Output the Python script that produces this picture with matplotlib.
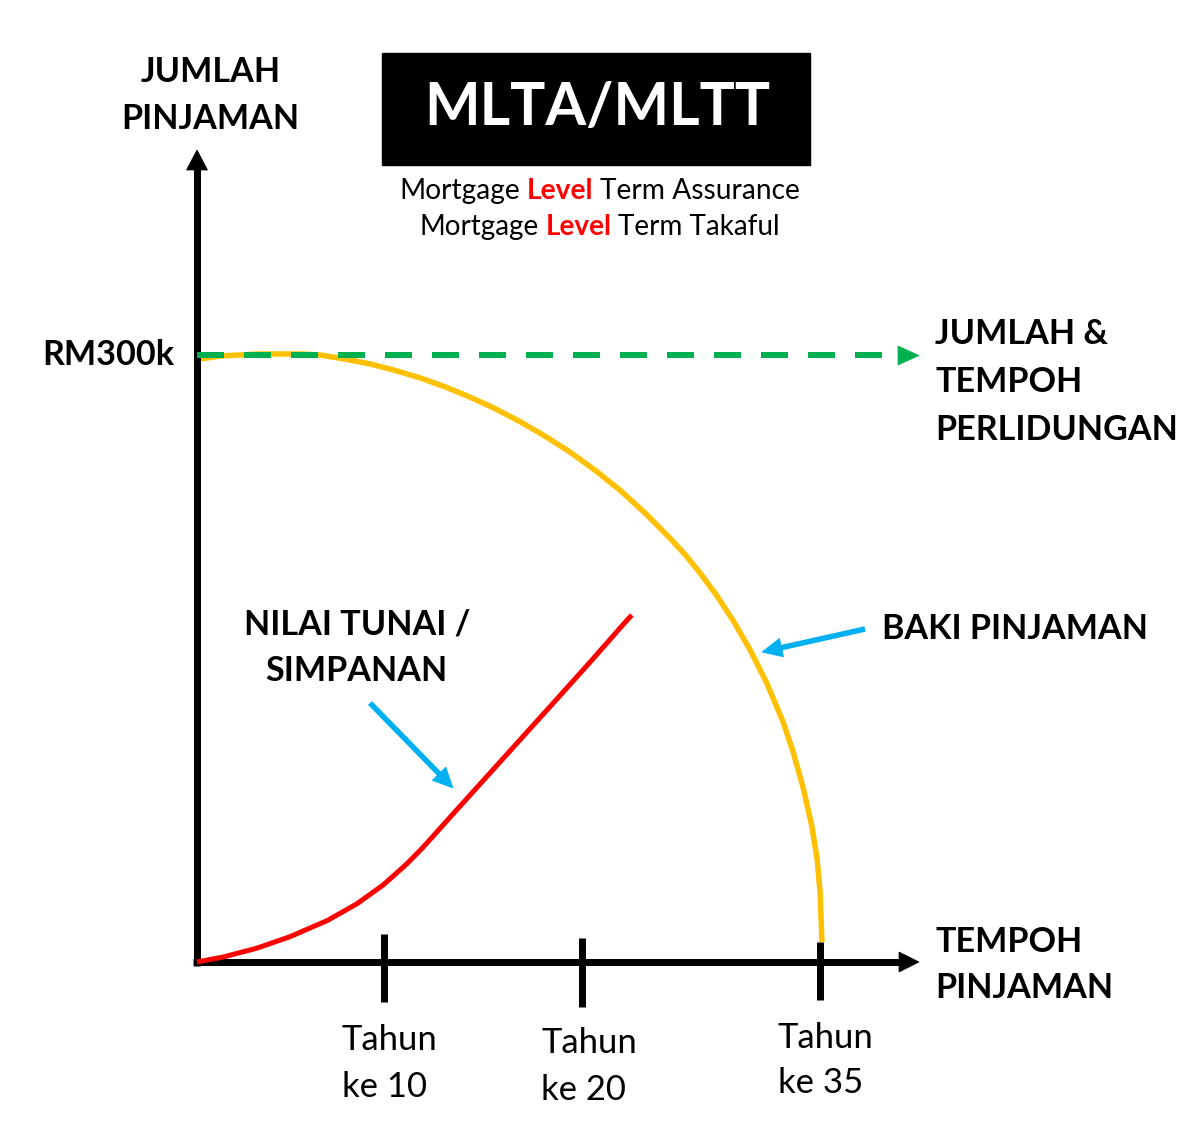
import matplotlib
matplotlib.use("Agg")
import matplotlib.pyplot as plt
from matplotlib.patches import Polygon, Rectangle
import numpy as np

# ---------------- data (schematic units: x = time units, y = RM thousand) ----------------
sum_assured_k = 300          # RM300k level cover
cover_end_x = 37.5           # dashed cover line length (time units)

loan_x = [0.16, 1.23, 2.30, 3.37, 4.44, 5.51, 6.58, 7.91, 9.25, 10.59, 11.93, 13.26,
          14.60, 15.94, 17.27, 18.61, 19.95, 21.28, 22.62, 23.96, 25.29, 26.10, 26.90,
          27.81, 28.66, 29.57, 30.48, 31.34, 31.87, 32.41, 32.89, 33.16, 33.32, 33.42]
loan_balance_k = [298.0, 299.5, 300.0, 300.5, 300.5, 300.5, 300.0, 298.0, 295.6, 292.4,
                  288.7, 284.3, 279.2, 273.5, 267.1, 259.9, 252.0, 243.1, 233.2, 221.9,
                  209.5, 201.4, 192.3, 180.9, 168.9, 154.4, 137.6, 118.7, 104.1, 86.3,
                  66.7, 50.9, 34.6, 9.9]

cash_x = [0.0, 1.41, 3.19, 4.97, 6.97, 8.54, 9.96, 11.21, 12.10, 13.88, 15.67, 17.45,
          19.24, 21.02, 22.80, 23.25]
cash_value_k = [0.0, 2.5, 6.8, 12.5, 20.5, 28.7, 38.1, 48.4, 56.8, 75.1, 93.4, 111.6,
                129.9, 148.2, 166.9, 171.5]

tick_pos = [10.0, 20.6, 33.3]
tick_top = [14.0, 12.0, 10.0]
tick_bottom = [-20.0, -22.0, -19.0]
tick_line1 = ["Tahun", "Tahun", "Tahun"]
tick_line2 = ["ke 10", "ke 20", "ke 35"]

# ---------------- layout helpers ----------------
W, H = 1200, 1122
OX, OY = 197, 962
PX_X = 18.7
PX_Y = 607 / 300.0
PT = 0.72  # points per pixel at dpi 100


def px2x(px):
    return (px - OX) / PX_X


def py2y(py):
    return (OY - py) / PX_Y


FONT = ["Lato", "DejaVu Sans"]
plt.rcParams["font.family"] = FONT
plt.rcParams["lines.scale_dashes"] = False

fig = plt.figure(figsize=(W / 100, H / 100), dpi=100)
ax = fig.add_axes([0, 0, 1, 1])
ax.set_xlim(px2x(0), px2x(W))
ax.set_ylim(py2y(H), py2y(0))
ax.axis("off")
fig.patch.set_facecolor("white")


def head(tip, base_c, half_w, color, z):
    """tip/base_c in pixels; triangular head polygon."""
    tx, ty = tip
    bx, by = base_c
    d = np.array([tx - bx, ty - by], float)
    n = np.array([-d[1], d[0]]) / np.hypot(*d)
    p1 = np.array([bx, by]) + n * half_w
    p2 = np.array([bx, by]) - n * half_w
    pts = [(px2x(tx), py2y(ty)), (px2x(p1[0]), py2y(p1[1])), (px2x(p2[0]), py2y(p2[1]))]
    ax.add_patch(Polygon(pts, closed=True, facecolor=color, edgecolor=color, lw=0.5, zorder=z))


def arrow(tail, tip, lw_px, head_len, half_w, color, z=5):
    tx, ty = tip
    sx, sy = tail
    d = np.array([tx - sx, ty - sy], float)
    L = np.hypot(*d)
    u = d / L
    base = (tx - u[0] * head_len, ty - u[1] * head_len)
    ax.plot([px2x(sx), px2x(base[0] + u[0] * 2)], [py2y(sy), py2y(base[1] + u[1] * 2)],
            color=color, lw=lw_px * PT, solid_capstyle="butt", zorder=z)
    head(tip, base, half_w, color, z)


# ---------------- axes with arrows ----------------
arrow((OX, 966), (OX, 150), 7, 20, 10.5, "black", z=3)
arrow((193, OY), (919, OY), 7, 20, 10, "black", z=3)

# ---------------- curves ----------------
ax.plot(loan_x, loan_balance_k, color="#FFC000", lw=5.5 * PT, solid_capstyle="butt",
        solid_joinstyle="round", zorder=2)
ax.plot(cash_x, cash_value_k, color="#FF0000", lw=5 * PT, solid_capstyle="butt",
        solid_joinstyle="round", zorder=4)

# level cover (dashed green)
ax.plot([0, cover_end_x], [sum_assured_k, sum_assured_k], color="#00B050", lw=6 * PT,
        linestyle=(0, (27 * PT, 20 * PT)), dash_capstyle="butt", zorder=3)
head((919, 355.5), (898, 355.5), 9.5, "#00B050", 3)

# ticks
ax.vlines(tick_pos, tick_bottom, tick_top, color="black", lw=7 * PT, zorder=4)

# blue pointer arrows
arrow((865, 629), (762, 652), 5.5, 20, 9.5, "#00B0F0", z=5)
arrow((370, 703), (453, 788), 5.5, 20, 9.5, "#00B0F0", z=5)

# ---------------- text ----------------
renderer = fig.canvas.get_renderer()


def text_group(items, weight, color="black", base_size=20):
    objs, ratios = [], []
    for s, x, y, tw, ha in items:
        t = ax.text(px2x(x), py2y(y), s, fontsize=base_size, ha=ha, va="baseline",
                    fontweight=weight, color=color, zorder=6)
        w = t.get_window_extent(renderer).width
        objs.append(t)
        ratios.append(tw / w)
    fs = base_size * float(np.mean(ratios))
    for t in objs:
        t.set_fontsize(fs)
    return fs


bold_items = [
    ("JUMLAH", 211, 82, 138, "center"),
    ("PINJAMAN", 210, 129, 176, "center"),
    ("RM300k", 174, 365, 134, "right"),
    ("JUMLAH &", 935, 344, 176, "left"),
    ("TEMPOH", 935, 392, 146, "left"),
    ("PERLIDUNGAN", 935, 440, 242, "left"),
    ("BAKI PINJAMAN", 882, 639, 263, "left"),
    ("NILAI TUNAI /", 357, 634, 229, "center"),
    ("SIMPANAN", 356, 681, 181, "center"),
    ("TEMPOH", 935, 952, 147, "left"),
    ("PINJAMAN", 935, 998, 178, "left"),
]
text_group(bold_items, "bold")

tick_label_x = [342, 541, 778]
tick_b1 = [1050, 1053, 1048]
tick_b2 = [1097, 1100, 1093]
tick_items = []
for i in range(3):
    tick_items.append((tick_line1[i], tick_label_x[i], tick_b1[i], 95, "left"))
    tick_items.append((tick_line2[i], tick_label_x[i], tick_b2[i], 86, "left"))
text_group(tick_items, "normal")

# title box
ax.add_patch(Rectangle((px2x(382), py2y(165)), (810 - 382) / PX_X, (165 - 53) / PX_Y,
                       facecolor="black", edgecolor="black", zorder=5))
text_group([("MLTA/MLTT", 597, 125, 345, "center")], "bold", color="white")


# subtitle with red bold "Level"
def rich_line(pieces, center_x, base_y, target_w, fs0=20):
    objs = []
    for s, wgt, col in pieces:
        t = ax.text(0, py2y(base_y), s, fontsize=fs0, ha="left", va="baseline",
                    fontweight=wgt, color=col, zorder=6)
        objs.append(t)
    sp_a = ax.text(0, 0, "M M", fontsize=fs0)
    sp_b = ax.text(0, 0, "MM", fontsize=fs0)
    space = sp_a.get_window_extent(renderer).width - sp_b.get_window_extent(renderer).width
    sp_a.remove()
    sp_b.remove()
    widths = [t.get_window_extent(renderer).width for t in objs]
    total = sum(widths) + space * (len(objs) - 1)
    k = target_w / total
    for t in objs:
        t.set_fontsize(fs0 * k)
    widths = [w * k for w in widths]
    space *= k
    x = center_x - target_w / 2.0
    for t, w in zip(objs, widths):
        t.set_x(px2x(x))
        x += w + space


red = "#FF0000"
rich_line([("Mortgage", "normal", "black"), ("Level", "bold", red),
           ("Term Assurance", "normal", "black")], 599.5, 199, 401)
rich_line([("Mortgage", "normal", "black"), ("Level", "bold", red),
           ("Term Takaful", "normal", "black")], 599.5, 235, 361)

fig.savefig("out.png", dpi=100, facecolor="white")
